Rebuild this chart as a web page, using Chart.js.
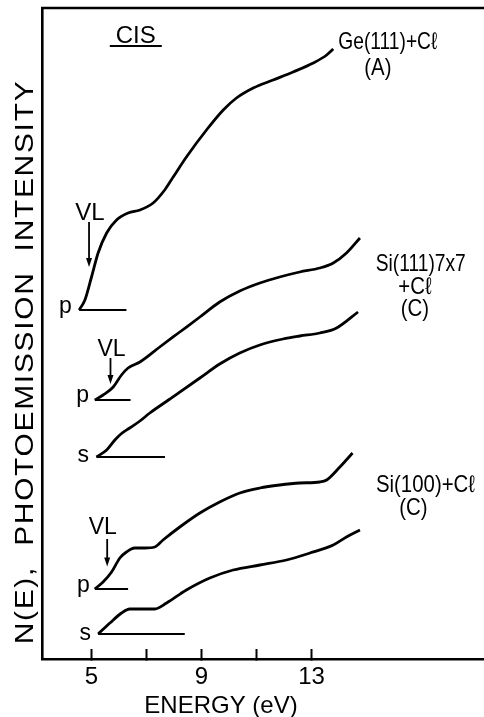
<!DOCTYPE html>
<html>
<head>
<meta charset="utf-8">
<script src="https://cdn.jsdelivr.net/npm/chart.js@4.4.1/dist/chart.umd.min.js"></script>
<style>
  html, body { margin: 0; padding: 0; background: #fff; }
  #wrap { width: 484px; height: 717px; position: relative; }
</style>
</head>
<body>
<div id="wrap"><canvas id="cis"></canvas></div>
<script>
// ===== DATA =====
// CIS spectra, N(E) in arbitrary units (curves offset vertically)
const geEnergy = [4.55, 4.76, 5.0, 5.24, 5.55, 5.91, 6.33, 6.76, 7.24, 7.66, 7.97, 8.45, 9.18, 9.79, 10.27, 10.88, 11.6, 12.33, 13.06, 13.55, 13.79];
const geIntensity = [34.9, 35.9, 38.2, 40.6, 42.6, 43.9, 44.6, 44.9, 45.6, 46.9, 48.2, 50.2, 52.9, 54.9, 56.1, 57.1, 57.9, 58.7, 59.6, 60.4, 61.0];

const si111pEnergy = [5.12, 5.42, 5.79, 6.09, 6.33, 6.76, 7.48, 8.21, 8.94, 9.66, 10.39, 11.12, 11.84, 12.57, 13.3, 13.79, 14.27, 14.76];
const si111pIntensity = [25.9, 26.4, 27.2, 28.4, 29.1, 29.7, 31.2, 32.7, 34.2, 35.7, 36.8, 37.6, 38.2, 38.7, 39.1, 39.6, 40.6, 42.1];

const si111sEnergy = [5.18, 5.55, 5.85, 6.07, 6.39, 6.76, 7.12, 7.85, 8.94, 9.66, 10.39, 11.12, 11.96, 12.57, 13.3, 13.91, 14.69];
const si111sIntensity = [20.2, 20.9, 21.9, 22.5, 23.1, 23.8, 24.6, 26.0, 28.1, 29.5, 30.6, 31.4, 32.0, 32.3, 32.6, 33.1, 34.7];

const si100pEnergy = [5.12, 5.42, 5.73, 6.03, 6.27, 6.57, 6.94, 7.3, 7.6, 8.21, 8.94, 9.66, 10.39, 11.12, 11.84, 12.57, 13.3, 13.55, 14.03, 14.49];
const si100pIntensity = [7.0, 7.7, 8.7, 10.1, 10.7, 11.1, 11.1, 11.2, 11.9, 13.2, 14.6, 15.7, 16.6, 17.1, 17.4, 17.6, 17.7, 17.9, 19.2, 20.6];

const si100sEnergy = [5.24, 5.67, 6.09, 6.39, 6.88, 7.3, 7.73, 8.45, 9.3, 10.15, 11.12, 12.09, 12.94, 13.79, 14.27, 14.76];
const si100sIntensity = [2.5, 3.6, 4.6, 5.0, 5.0, 5.0, 5.6, 6.9, 8.1, 8.9, 9.4, 9.9, 10.6, 11.4, 12.2, 12.9];

// zero-level lines drawn under each spectrum (Ge p, Si111 p, Si111 s, Si100 p, Si100 s)
const baseStart = [4.55, 5.12, 5.18, 5.12, 5.24];
const baseEnd = [6.27, 6.42, 7.67, 6.33, 8.39];
const baseLevel = [34.9, 25.9, 20.2, 7.0, 2.5];

// vacuum level markers (energy, arrow top, arrow tip)
const vlEnergy = [4.91, 5.69, 5.57];
const vlTop = [43.7, 30.1, 12.0];
const vlTip = [39.2, 27.5, 9.25];

const xTicks = [5, 7, 9, 11, 13];
const xTickLabels = [5, 9, 13];

// ===== STYLE =====
const FONT = '"Liberation Sans", Arial, sans-serif';
const INK = '#000';

const toPoints = (xs, ys) => xs.map((x, i) => ({ x: x, y: ys[i] }));

function curve(xs, ys) {
    return {
        data: toPoints(xs, ys),
        borderColor: INK,
        borderWidth: 2.8,
        pointRadius: 0,
        cubicInterpolationMode: 'monotone',
        fill: false
    };
}

const datasets = [
    curve(geEnergy, geIntensity),
    curve(si111pEnergy, si111pIntensity),
    curve(si111sEnergy, si111sIntensity),
    curve(si100pEnergy, si100pIntensity),
    curve(si100sEnergy, si100sIntensity)
];

baseStart.forEach((x0, i) => {
    datasets.push({
        data: [{ x: x0, y: baseLevel[i] }, { x: baseEnd[i], y: baseLevel[i] }],
        borderColor: INK,
        borderWidth: 2,
        pointRadius: 0,
        fill: false
    });
});

// text placed in data coordinates; squeeze < 1 narrows the lettering
const labels = [
    { text: 'CIS', x: 6.61, y: 61.6, size: 24, align: 'center', underline: true },
    { text: 'Ge(111)+C\u2113', x: 15.77, y: 61.0, size: 24, squeeze: 0.8, align: 'center' },
    { text: '(A)', x: 15.41, y: 58.4, size: 24, squeeze: 0.85, align: 'center' },
    { text: 'Si(111)7x7', x: 16.97, y: 38.8, size: 24, squeeze: 0.8, align: 'center' },
    { text: '+C\u2113', x: 16.76, y: 36.55, size: 24, squeeze: 0.85, align: 'center' },
    { text: '(C)', x: 16.76, y: 34.3, size: 24, squeeze: 0.85, align: 'center' },
    { text: 'Si(100)+C\u2113', x: 17.14, y: 16.7, size: 24, squeeze: 0.85, align: 'center' },
    { text: '(C)', x: 16.7, y: 14.4, size: 24, squeeze: 0.85, align: 'center' },
    { text: 'VL', x: 4.94, y: 43.9, size: 24, align: 'center' },
    { text: 'VL', x: 5.73, y: 30.3, size: 23, align: 'center' },
    { text: 'VL', x: 5.41, y: 12.5, size: 23, align: 'center' },
    { text: 'p', x: 4.28, y: 34.6, size: 23, align: 'right' },
    { text: 'p', x: 4.91, y: 25.7, size: 23, align: 'right' },
    { text: 's', x: 4.91, y: 19.7, size: 23, align: 'right' },
    { text: 'p', x: 4.94, y: 6.7, size: 23, align: 'right' },
    { text: 's', x: 4.98, y: 1.9, size: 23, align: 'right' }
];

// ===== PLUGIN: frame top, VL arrows, labels, axis titles =====
const annotate = {
    id: 'annotate',
    afterDraw(chart) {
        const { ctx, chartArea, scales } = chart;
        const sx = scales.x, sy = scales.y;
        ctx.save();
        ctx.strokeStyle = INK;
        ctx.fillStyle = INK;

        // top edge of the frame
        ctx.lineWidth = 2.5;
        ctx.beginPath();
        ctx.moveTo(chartArea.left - 1, chartArea.top);
        ctx.lineTo(chartArea.right, chartArea.top);
        ctx.stroke();

        // VL arrows
        vlEnergy.forEach((e, i) => {
            const px = sx.getPixelForValue(e);
            const top = sy.getPixelForValue(vlTop[i]);
            const tip = sy.getPixelForValue(vlTip[i]);
            ctx.lineWidth = 1.8;
            ctx.beginPath();
            ctx.moveTo(px, top);
            ctx.lineTo(px, tip - 6);
            ctx.stroke();
            ctx.beginPath();
            ctx.moveTo(px - 3, tip - 9);
            ctx.lineTo(px + 3, tip - 9);
            ctx.lineTo(px, tip);
            ctx.closePath();
            ctx.fill();
        });

        // labels
        ctx.textBaseline = 'alphabetic';
        labels.forEach(l => {
            const px = sx.getPixelForValue(l.x);
            const py = sy.getPixelForValue(l.y);
            const k = l.squeeze || 1;
            ctx.font = l.size + 'px ' + FONT;
            ctx.textAlign = l.align;
            ctx.save();
            ctx.translate(px, py);
            ctx.scale(k, 1);
            ctx.fillText(l.text, 0, 0);
            ctx.restore();
            if (l.underline) {
                const w = ctx.measureText(l.text).width * k;
                ctx.lineWidth = 2;
                ctx.beginPath();
                ctx.moveTo(px - w / 2 - 6, py + 3);
                ctx.lineTo(px + w / 2 + 6, py + 3);
                ctx.stroke();
            }
        });

        // axis titles
        ctx.font = '24px ' + FONT;
        ctx.textAlign = 'center';
        ctx.fillText('ENERGY (eV)', 221, 713);

        ctx.save();
        ctx.translate(33, 362);
        ctx.rotate(-Math.PI / 2);
        ctx.scale(1.15, 1);
        ctx.font = '26px ' + FONT;
        if ('letterSpacing' in ctx) ctx.letterSpacing = '1.5px';
        ctx.fillText('N(E),  PHOTOEMISSION  INTENSITY', 0, 0);
        ctx.restore();

        ctx.restore();
    }
};

new Chart(document.getElementById('cis'), {
    type: 'line',
    data: { datasets: datasets },
    options: {
        responsive: true,
        maintainAspectRatio: false,
        animation: false,
        layout: { padding: { top: 8, right: 0, bottom: 0, left: 0 } },
        plugins: {
            legend: { display: false },
            tooltip: { enabled: false }
        },
        scales: {
            x: {
                type: 'linear',
                min: 3.2,
                max: 19.27,
                afterBuildTicks: scale => {
                    scale.ticks = xTicks.map(v => ({ value: v }));
                },
                afterFit: scale => { scale.height = 58; },
                ticks: {
                    autoSkip: false,
                    maxRotation: 0,
                    color: INK,
                    padding: 14,
                    font: { family: FONT, size: 24 },
                    callback: v => xTickLabels.includes(v) ? String(v) : ''
                },
                grid: {
                    display: true,
                    drawOnChartArea: false,
                    drawTicks: true,
                    tickLength: -10,
                    tickWidth: 2,
                    color: INK
                },
                border: { display: true, color: INK, width: 2.6 }
            },
            y: {
                type: 'linear',
                min: 0,
                max: 65.1,
                afterFit: scale => { scale.width = 42; },
                ticks: { display: false },
                grid: { display: false },
                border: { display: true, color: INK, width: 2.6 }
            }
        }
    },
    plugins: [annotate]
});
</script>
</body>
</html>
